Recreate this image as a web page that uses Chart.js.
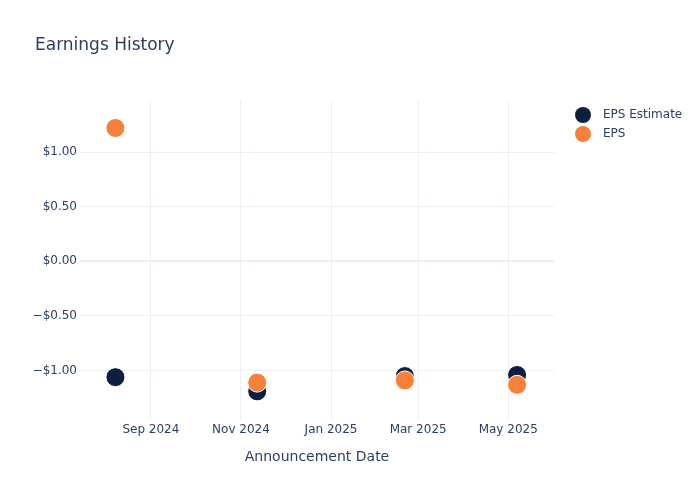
<!DOCTYPE html>
<html>
<head>
<meta charset="utf-8">
<script src="https://cdn.jsdelivr.net/npm/chart.js@4.4.0/dist/chart.umd.min.js"></script>
<style>
  html, body { margin: 0; padding: 0; background: #fff; }
  #wrap { width: 700px; height: 500px; position: relative; }
</style>
</head>
<body>
<div id="wrap"><canvas id="grafico" width="700" height="500"></canvas></div>
<script>
// dados
var datas = ['2024-08-08', '2024-11-12', '2025-02-20', '2025-05-07'];
var estimativas = [-1.06, -1.19, -1.05, -1.04];
var eps = [1.22, -1.11, -1.09, -1.13];

var ticksX = ['2024-09-01', '2024-11-01', '2025-01-01', '2025-03-01', '2025-05-01'];
var rotulosX = ['Sep 2024', 'Nov 2024', 'Jan 2025', 'Mar 2025', 'May 2025'];
var ticksY = [-1, -0.5, 0, 0.5, 1];

var azul = '#0c1f40';
var laranja = '#f7803a';
var texto = '#2a3f5f';
var grade = '#ebf0f8';
var fonte = '"DejaVu Sans", Verdana, sans-serif';

function ms(d) { return new Date(d + 'T00:00:00Z').getTime(); }

function pontos(valores) {
    var saida = [];
    for (let i = 0; i < datas.length; i++) {
        saida.push({ x: ms(datas[i]), y: valores[i] });
    }
    return saida;
}

function dinheiro(v) {
    var s = '$' + Math.abs(v).toFixed(2);
    return v < 0 ? '\u2212' + s : s;
}

// titulo e legenda desenhados a mao
var extras = {
    id: 'extras',
    afterDraw: function (chart) {
        var ctx = chart.ctx;
        ctx.save();
        ctx.fillStyle = texto;
        ctx.textBaseline = 'alphabetic';
        ctx.textAlign = 'left';
        ctx.font = '17px ' + fonte;
        ctx.fillText('Earnings History', 35, 50);

        ctx.font = '12px ' + fonte;
        ctx.textBaseline = 'middle';
        chart.data.datasets.forEach(function (ds, i) {
            var y = 115 + i * 19;
            ctx.beginPath();
            ctx.arc(583, y, 8, 0, Math.PI * 2);
            ctx.fillStyle = ds.backgroundColor;
            ctx.fill();
            ctx.fillStyle = texto;
            ctx.fillText(ds.label, 603, y);
        });
        ctx.restore();
    }
};

var ctx = document.getElementById('grafico');
var meuGrafico = new Chart(ctx, {
    type: 'scatter',
    data: {
        datasets: [
            {
                label: 'EPS Estimate',
                data: pontos(estimativas),
                backgroundColor: azul,
                borderColor: '#ffffff',
                borderWidth: 1,
                pointRadius: 9.5,
                pointHoverRadius: 9.5,
                order: 2
            },
            {
                label: 'EPS',
                data: pontos(eps),
                backgroundColor: laranja,
                borderColor: '#ffffff',
                borderWidth: 1,
                pointRadius: 9.5,
                pointHoverRadius: 9.5,
                order: 1
            }
        ]
    },
    options: {
        responsive: false,
        animation: false,
        layout: { padding: { top: 100, right: 146, bottom: 0, left: 0 } },
        plugins: {
            legend: { display: false },
            tooltip: { enabled: false },
            title: { display: false }
        },
        scales: {
            x: {
                type: 'linear',
                min: ms('2024-07-15'),
                max: ms('2025-06-01'),
                afterBuildTicks: function (scale) {
                    scale.ticks = ticksX.map(function (d) { return { value: ms(d) }; });
                },
                afterFit: function (scale) { scale.height = 80; },
                ticks: {
                    autoSkip: false,
                    maxRotation: 0,
                    padding: 3,
                    color: texto,
                    font: { family: fonte, size: 12 },
                    callback: function (v) {
                        var i = ticksX.map(ms).indexOf(v);
                        return i >= 0 ? rotulosX[i] : '';
                    }
                },
                grid: { color: grade, lineWidth: 1, drawTicks: false },
                border: { display: false },
                title: {
                    display: true,
                    text: 'Announcement Date',
                    color: texto,
                    font: { family: fonte, size: 14 },
                    padding: { top: 4, bottom: 34 }
                }
            },
            y: {
                type: 'linear',
                min: -1.452,
                max: 1.476,
                afterBuildTicks: function (scale) {
                    scale.ticks = ticksY.map(function (v) { return { value: v }; });
                },
                afterFit: function (scale) { scale.width = 80; },
                ticks: {
                    padding: 3,
                    color: texto,
                    font: { family: fonte, size: 12 },
                    callback: function (v) { return dinheiro(v); }
                },
                grid: {
                    color: grade,
                    drawTicks: false,
                    lineWidth: function (c) { return c.tick && c.tick.value === 0 ? 2 : 1; }
                },
                border: { display: false }
            }
        }
    },
    plugins: [extras]
});
</script>
</body>
</html>
